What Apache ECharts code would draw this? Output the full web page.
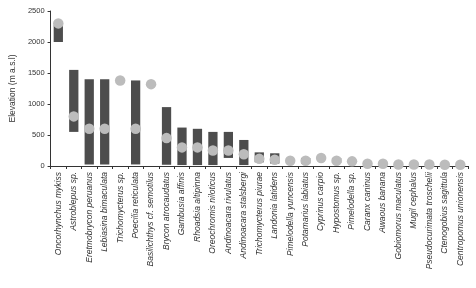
<!DOCTYPE html>
<html>
<head>
<meta charset="utf-8">
<script src="https://cdn.jsdelivr.net/npm/echarts@6/dist/echarts.min.js"></script>
<style>
  html, body { margin: 0; padding: 0; background: #fff; }
  #chart { width: 476px; height: 288px; }
</style>
</head>
<body>
<div id="chart"></div>
<script>
// species
const SPECIES = [
  'Oncorhynchus mykiss', 'Astroblepus sp.', 'Eretmobrycon peruanus', 'Lebiasina bimaculata',
  'Trichomycterus sp.', 'Poecilia reticulata', 'Basilichthys cf. semotilus', 'Brycon atrocaudatus',
  'Gambusia affinis', 'Rhoadsia altipinna', 'Oreochromis niloticus', 'Andinoacara rivulatus',
  'Andinoacara stalsbergi', 'Trichomycterus piurae', 'Landonia latidens', 'Pimelodella yuncensis',
  'Potamarius labiatus', 'Cyprinus carpio', 'Hypostomus sp.', 'Pimelodella sp.',
  'Caranx caninus', 'Awaous banana', 'Gobiomorus maculatus', 'Mugil cephalus',
  'Pseudocurimata troschelii', 'Ctenogobius sagittula', 'Centropomus unionensis'
]
// elevation range (min / max), null = no bar
const ELEV_MIN = [2000, 550, 25, 25, null, 25, null, 20, 15, 15, 15, 130, 15, 60, 40, null, 40, null, 50, null, null, null, null, null, null, null, null]
const ELEV_MAX = [2270, 1550, 1400, 1400, null, 1380, null, 950, 620, 600, 550, 550, 420, 220, 205, null, 130, null, 130, null, null, null, null, null, null, null, null]
// circle marks
const ELEV_MID = [2300, 800, 600, 600, 1380, 600, 1320, 450, 300, 300, 250, 250, 190, 115, 100, 85, 85, 130, 85, 75, 35, 35, 25, 25, 25, 20, 20]
const Y_TICKS = [0, 500, 1000, 1500, 2000, 2500]

const FONT = 'Liberation Sans, Arial, sans-serif'
const AXIS_COLOR = '#333'

const chart = echarts.init(document.getElementById('chart'))

const spanData = ELEV_MAX.map((v, i) => (v == null ? null : v - ELEV_MIN[i]))

chart.setOption({
  animation: false,
  grid: { left: 48, right: 8, top: 11, bottom: 122 },
  xAxis: {
    type: 'category',
    data: SPECIES,
    axisLine: { lineStyle: { color: AXIS_COLOR, width: 1 } },
    axisTick: { show: true, length: 3, lineStyle: { color: AXIS_COLOR } },
    axisLabel: {
      interval: 0,
      rotate: 90,
      margin: 6,
      fontFamily: FONT,
      fontStyle: 'italic',
      fontSize: 8.5,
      color: '#333'
    }
  },
  yAxis: {
    type: 'value',
    min: Y_TICKS[0],
    max: Y_TICKS[Y_TICKS.length - 1],
    interval: 500,
    name: 'Elevation (m a.s.l)',
    nameLocation: 'middle',
    nameGap: 31,
    nameTextStyle: { fontFamily: FONT, fontSize: 8.5, color: '#333' },
    axisLine: { show: true, lineStyle: { color: AXIS_COLOR, width: 1 } },
    axisTick: { show: true, length: 3, lineStyle: { color: AXIS_COLOR } },
    axisLabel: {
      fontFamily: FONT,
      fontSize: 7.5,
      color: '#333',
      margin: 6,
      formatter: (v) => String(v)
    },
    splitLine: { show: false }
  },
  series: [
    {
      type: 'bar',
      stack: 'range',
      data: ELEV_MIN,
      itemStyle: { color: 'transparent' },
      barWidth: '60%',
      silent: true
    },
    {
      type: 'bar',
      stack: 'range',
      data: spanData,
      itemStyle: { color: '#4d4d4d' },
      barWidth: '60%'
    },
    {
      type: 'scatter',
      data: ELEV_MID,
      symbol: 'circle',
      symbolSize: 10.5,
      itemStyle: { color: '#bcbcbc', opacity: 1 },
      z: 5
    }
  ]
})
</script>
</body>
</html>
